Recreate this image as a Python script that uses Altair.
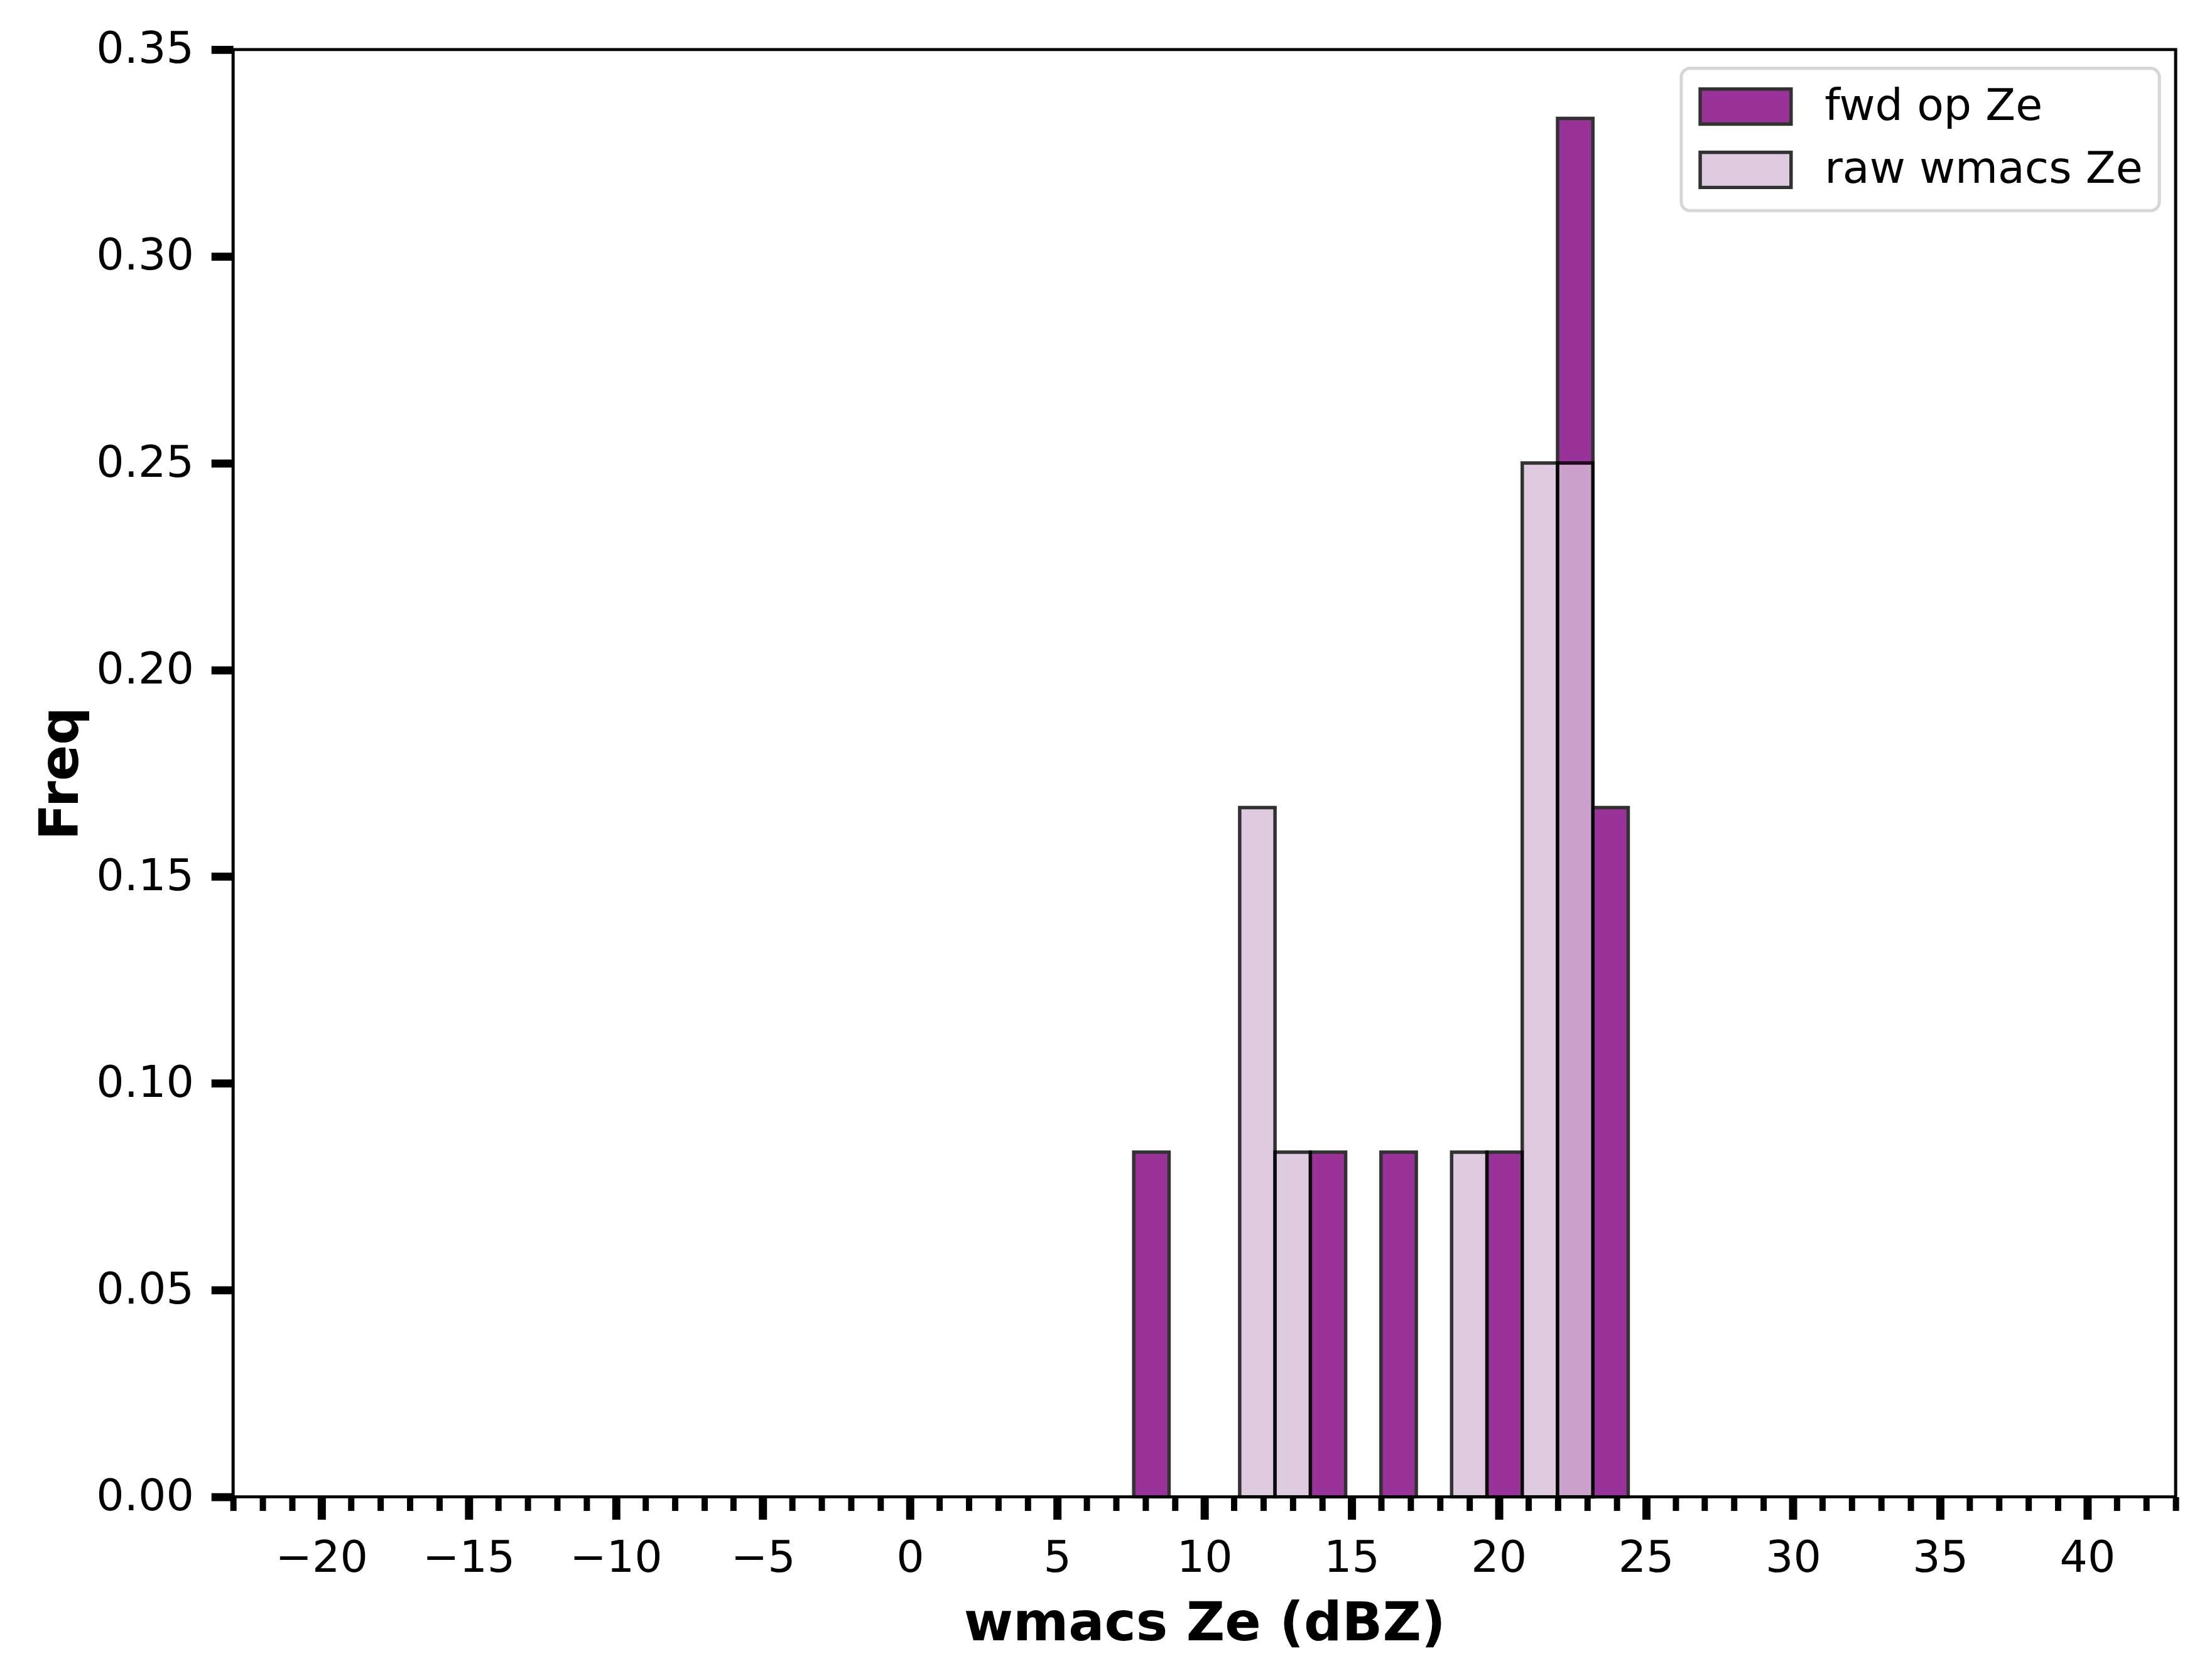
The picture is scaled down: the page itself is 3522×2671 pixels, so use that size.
import altair as alt
import pandas as pd

# ---- data ----
bin_edges = [7.6, 8.8, 10.0, 11.2, 12.4, 13.6, 14.8, 16.0, 17.2, 18.4, 19.6, 20.8, 22.0, 23.2, 24.4]
fwd_freq = [1/12, 0, 0, 0, 0, 1/12, 0, 1/12, 0, 0, 1/12, 0, 4/12, 2/12]
raw_freq = [0, 0, 0, 2/12, 1/12, 0, 0, 0, 0, 1/12, 0, 3/12, 3/12, 0]
series = ["fwd op Ze", "raw wmacs Ze"]
series_colors = ["purple", "thistle"]
x_major_ticks = list(range(-20, 41, 5))
x_minor_ticks = list(range(-23, 44))
y_ticks = [0.0, 0.05, 0.10, 0.15, 0.20, 0.25, 0.30, 0.35]
x_domain = [-23, 43]
y_domain = [0, 0.35]

rows = []
for name, freqs in zip(series, [fwd_freq, raw_freq]):
    for i, f in enumerate(freqs):
        if f > 0:
            rows.append({"series": name, "lo": bin_edges[i], "hi": bin_edges[i + 1], "freq": f})
df = pd.DataFrame(rows)
minor_df = pd.DataFrame({"v": x_minor_ticks})

FONT = "DejaVu Sans"
xscale = alt.Scale(domain=x_domain, nice=False, zero=False)

bars = alt.Chart(df).mark_bar(
    stroke="black", strokeWidth=5.5, opacity=0.8
).encode(
    x=alt.X("lo:Q", scale=xscale,
            axis=alt.Axis(orient="bottom", values=x_major_ticks, title="wmacs Ze (dBZ)",
                          grid=False, domain=False,
                          tickSize=36, tickWidth=13, tickColor="black", labelFontSize=70,
                          labelFont=FONT, labelColor="black", labelPadding=28,
                          titleFont=FONT, titleFontSize=85, titleFontWeight="bold",
                          titleColor="black", titlePadding=28, labelFlush=False)),
    x2="hi:Q",
    y=alt.Y("freq:Q", scale=alt.Scale(domain=y_domain, nice=False), stack=None,
            axis=alt.Axis(values=y_ticks, format=".2f", title="Freq", grid=False, domain=False,
                          tickSize=35, tickWidth=13, tickColor="black", labelFontSize=70,
                          labelFont=FONT, labelColor="black", labelPadding=28,
                          titleFont=FONT, titleFontSize=85, titleFontWeight="bold",
                          titleColor="black", titlePadding=30, labelFlush=False)),
    y2=alt.datum(0),
    fill=alt.Fill("series:N", scale=alt.Scale(domain=series, range=series_colors),
                  sort=series,
                  legend=alt.Legend(title=None, orient="none", legendX=2311, legendY=30,
                                    symbolType="M-2.59,-1H2.59V1H-2.59Z", symbolSize=3136,
                                    symbolOffset=41.75, symbolStrokeColor="black",
                                    symbolStrokeWidth=5.5, labelOffset=91, labelLimit=2000,
                                    labelFontSize=70, labelFont=FONT, labelColor="black",
                                    rowPadding=23, padding=26, strokeColor="#d6d6d6",
                                    cornerRadius=14, fillColor="white")),
    order=alt.Order("series:N")
)

minor = alt.Chart(minor_df).mark_point(opacity=0).encode(
    x=alt.X("v:Q", scale=xscale,
            axis=alt.Axis(orient="bottom", values=x_minor_ticks, labels=False, title=None,
                          grid=False, domain=False, tickSize=22, tickWidth=10,
                          tickColor="black"))
)

chart = alt.layer(minor, bars).resolve_axis(x="independent").properties(
    width=3100, height=2309,
    padding={"left": 364, "top": 68, "right": 50, "bottom": 286},
    autosize=alt.AutoSizeParams(type="none"),
    background="white",
).configure_view(stroke="black", strokeWidth=5).configure_legend(
    strokeWidth=5
)

chart.save("out.html", embed_options={"renderer": "svg", "actions": False})
